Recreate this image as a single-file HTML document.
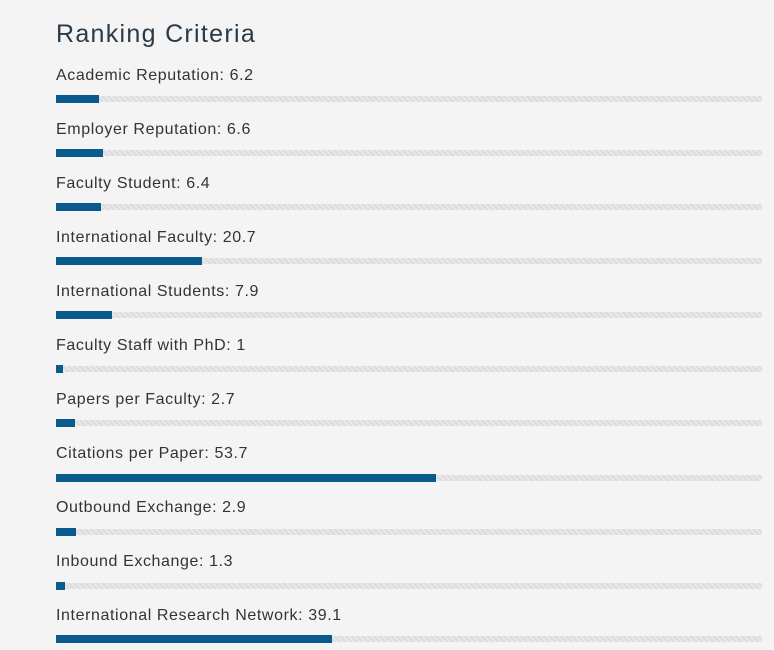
<!DOCTYPE html><html><head><style>
body{margin:0;width:774px;height:650px;background:#f4f4f4;font-family:"Liberation Sans",sans-serif;color:#333;position:relative;overflow:hidden}
h1{position:absolute;left:56px;top:20px;margin:0;font-size:25px;font-weight:normal;color:#2a3a48;letter-spacing:1.3px}
.l{position:absolute;left:56px;font-size:16px;color:#333;letter-spacing:.6px}
.t{position:absolute;left:56px;width:706px;height:6px;background:repeating-linear-gradient(45deg,#dcdcdc 0 2px,#e8e8e8 2px 4px)}
.f{position:absolute;left:0;top:-1px;height:8px;background:#0b5a8e}
</style></head><body>
<h1>Ranking Criteria</h1>
<div class="l" style="top:67px">Academic Reputation: 6.2</div><div class="t" style="top:96px"><div class="f" style="width:43px"></div></div>
<div class="l" style="top:121px">Employer Reputation: 6.6</div><div class="t" style="top:150px"><div class="f" style="width:47px"></div></div>
<div class="l" style="top:175px">Faculty Student: 6.4</div><div class="t" style="top:204px"><div class="f" style="width:45px"></div></div>
<div class="l" style="top:229px">International Faculty: 20.7</div><div class="t" style="top:258px"><div class="f" style="width:146px"></div></div>
<div class="l" style="top:283px">International Students: 7.9</div><div class="t" style="top:312px"><div class="f" style="width:56px"></div></div>
<div class="l" style="top:337px">Faculty Staff with PhD: 1</div><div class="t" style="top:366px"><div class="f" style="width:7px"></div></div>
<div class="l" style="top:391px">Papers per Faculty: 2.7</div><div class="t" style="top:420px"><div class="f" style="width:19px"></div></div>
<div class="l" style="top:445px">Citations per Paper: 53.7</div><div class="t" style="top:475px"><div class="f" style="width:380px"></div></div>
<div class="l" style="top:499px">Outbound Exchange: 2.9</div><div class="t" style="top:529px"><div class="f" style="width:20px"></div></div>
<div class="l" style="top:553px">Inbound Exchange: 1.3</div><div class="t" style="top:583px"><div class="f" style="width:9px"></div></div>
<div class="l" style="top:607px">International Research Network: 39.1</div><div class="t" style="top:636px"><div class="f" style="width:276px"></div></div>
</body></html>
